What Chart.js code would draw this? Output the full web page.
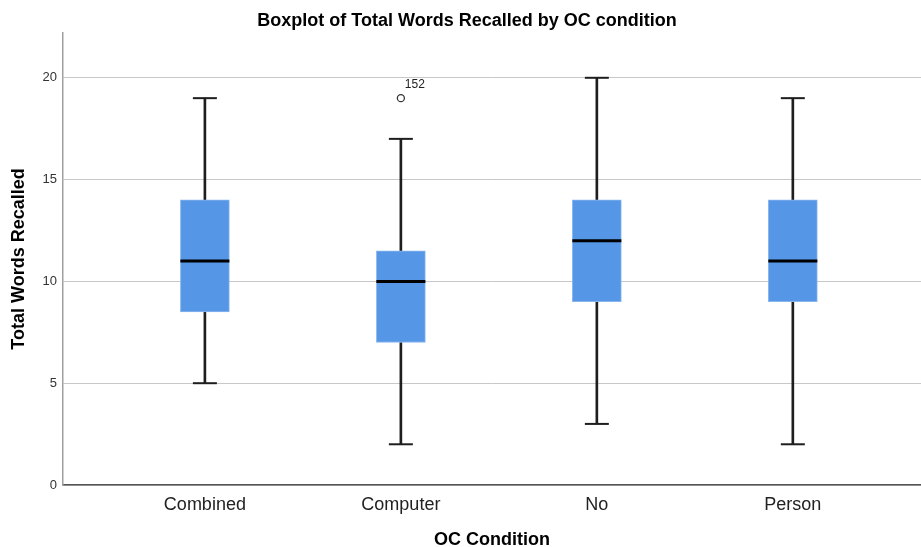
<!DOCTYPE html>
<html>
<head>
<meta charset="utf-8">
<script src="https://cdn.jsdelivr.net/npm/chart.js@4/dist/chart.umd.min.js"></script>
<style>
  html, body { margin: 0; padding: 0; background: #ffffff; }
  #wrap { width: 921px; height: 547px; }
</style>
</head>
<body>
<div id="wrap"><canvas id="c" width="921" height="547"></canvas></div>
<script>
// ---- data ----
const categories   = ['Combined', 'Computer', 'No', 'Person'];
const minValues    = [5, 2, 3, 2];
const q1Values     = [8.5, 7, 9, 9];
const medianValues = [11, 10, 12, 11];
const q3Values     = [14, 11.5, 14, 14];
const maxValues    = [19, 17, 20, 19];
const outlierCats   = [1];
const outlierValues = [19];
const outlierLabels = ['152'];
const yTickValues  = [0, 5, 10, 15, 20];

const FONT = "'Liberation Sans', Arial, Helvetica, sans-serif";
const BOX_COLOR = '#5596e6';
const LINE_COLOR = '#1e1e1e';

const boxData     = categories.map((c, i) => ({ x: i, y: [q1Values[i], q3Values[i]] }));
const lowWhisker  = categories.map((c, i) => ({ x: i, y: [minValues[i], q1Values[i]] }));
const highWhisker = categories.map((c, i) => ({ x: i, y: [q3Values[i], maxValues[i]] }));
const capData     = categories.flatMap((c, i) => [{ x: i, y: minValues[i] }, { x: i, y: maxValues[i] }]);
const medianData  = categories.map((c, i) => ({ x: i, y: medianValues[i] }));
const outlierData = outlierCats.map((c, k) => ({ x: c, y: outlierValues[k] }));

const outlierLabelPlugin = {
  id: 'outlierLabels',
  afterDatasetsDraw(chart) {
    const { ctx, scales: { x, y } } = chart;
    ctx.save();
    ctx.font = '12px ' + FONT;
    ctx.fillStyle = '#222';
    ctx.textAlign = 'left';
    ctx.textBaseline = 'middle';
    outlierCats.forEach((c, k) => {
      ctx.fillText(outlierLabels[k], x.getPixelForValue(c) + 4, y.getPixelForValue(outlierValues[k]) - 13);
    });
    ctx.restore();
  }
};

new Chart(document.getElementById('c'), {
  type: 'bar',
  data: {
    datasets: [
      { type: 'scatter', data: outlierData, order: 0, pointStyle: 'circle', pointRadius: 3.5,
        pointBorderWidth: 1.3, pointBorderColor: '#333', pointBackgroundColor: '#fff' },
      { type: 'scatter', data: medianData, order: 1, pointStyle: 'line', pointRadius: 24.5,
        pointBorderWidth: 3, pointBorderColor: '#000', pointBackgroundColor: '#000' },
      { type: 'scatter', data: capData, order: 2, pointStyle: 'line', pointRadius: 12,
        pointBorderWidth: 2, pointBorderColor: LINE_COLOR, pointBackgroundColor: LINE_COLOR },
      { data: boxData, order: 3, grouped: false, barThickness: 49, backgroundColor: BOX_COLOR,
        borderColor: '#8ab6ee', borderWidth: 1, borderSkipped: false },
      { data: lowWhisker, order: 4, grouped: false, barThickness: 2, backgroundColor: LINE_COLOR, borderWidth: 0 },
      { data: highWhisker, order: 4, grouped: false, barThickness: 2, backgroundColor: LINE_COLOR, borderWidth: 0 }
    ]
  },
  options: {
    responsive: false,
    maintainAspectRatio: false,
    devicePixelRatio: 1,
    animation: false,
    layout: { autoPadding: false, padding: { left: 13, right: 0, top: 0, bottom: 0 } },
    plugins: {
      legend: { display: false },
      tooltip: { enabled: false },
      title: {
        display: true,
        text: 'Boxplot of Total Words Recalled by OC condition',
        color: '#000',
        font: { family: FONT, size: 18, weight: 'bold' },
        padding: { top: 10, bottom: 1.4 }
      }
    },
    scales: {
      x: {
        type: 'linear',
        offset: false,
        min: -0.724,
        max: 3.654,
        afterBuildTicks(scale) { scale.ticks = categories.map((c, i) => ({ value: i })); },
        afterFit(scale) { scale.height = 62; scale.paddingLeft = 0; scale.paddingRight = 0; },
        grid: { display: false, drawTicks: false, offset: false },
        border: { display: true, color: '#555', width: 1.5 },
        ticks: {
          padding: 9,
          color: '#222',
          font: { family: FONT, size: 18 },
          callback: (v) => categories[v] ?? ''
        },
        title: {
          display: true,
          text: 'OC Condition',
          color: '#000',
          font: { family: FONT, size: 18, weight: 'bold' },
          padding: { top: 0, bottom: -4 }
        }
      },
      y: {
        type: 'linear',
        min: 0,
        max: 22.2,
        afterBuildTicks(scale) { scale.ticks = yTickValues.map(v => ({ value: v })); },
        afterFit(scale) { scale.width = 50; },
        grid: { color: '#c8c8c8', lineWidth: 1, drawTicks: false },
        border: { display: true, color: '#a0a0a0', width: 1.5 },
        ticks: { padding: 6, color: '#333', font: { family: FONT, size: 13 } },
        title: {
          display: true,
          text: 'Total Words Recalled',
          color: '#000',
          font: { family: FONT, size: 18, weight: 'bold' },
          padding: { top: -5, bottom: 0 }
        }
      }
    }
  },
  plugins: [outlierLabelPlugin]
});
</script>
</body>
</html>
